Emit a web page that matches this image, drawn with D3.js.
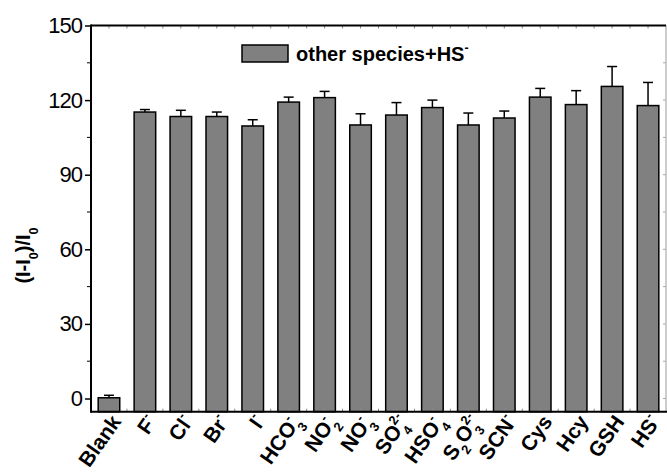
<!DOCTYPE html>
<html>
    <head>
        <title>Selectivity bar chart</title>
        <script src="https://d3js.org/d3.v7.min.js" charset="utf-8"></script>
        <style>
            body { margin: 0; background: #fff; }
            text { font-family: "Liberation Sans", Arial, sans-serif; }
        </style>
    </head>
    <body>
        <script>
            // categories along the x axis
            var categories = ["Blank", "F", "Cl", "Br", "I", "HCO3", "NO2", "NO3", "SO4",
                              "HSO4", "S2O3", "SCN", "Cys", "Hcy", "GSH", "HS"];
            // (I-I0)/I0 for each species + HS-
            var values = [0.3, 115.2, 113.4, 113.4, 109.6, 119.2, 121, 110, 114,
                          117, 110, 112.8, 121.2, 118.2, 125.5, 117.8];
            // upper error bars
            var errors = [1, 1, 2.5, 1.8, 2.5, 2, 2.5, 4.5, 5, 3, 4.8, 2.8, 3.5, 5.6, 8, 9.3];
            // tick label pieces: [text, "sub" | "sup"]
            var labelParts = [
                [["Blank"]],
                [["F"], ["-", "sup"]],
                [["Cl"], ["-", "sup"]],
                [["Br"], ["-", "sup"]],
                [["I"], ["-", "sup"]],
                [["HCO"], ["3", "sub"], ["-", "sup"]],
                [["NO"], ["2", "sub"], ["-", "sup"]],
                [["NO"], ["3", "sub"], ["-", "sup"]],
                [["SO"], ["4", "sub"], ["2-", "sup"]],
                [["HSO"], ["4", "sub"], ["-", "sup"]],
                [["S"], ["2", "sub"], ["O"], ["3", "sub"], ["2-", "sup"]],
                [["SCN"], ["-", "sup"]],
                [["Cys"]],
                [["Hcy"]],
                [["GSH"]],
                [["HS"], ["-", "sup"]]
            ];
            var yTicks = [0, 30, 60, 90, 120, 150];
            var legendName = [["other species+HS"], ["-", "sup"]];

            var W = 667, H = 474;
            var pLeft = 91, pRight = 666, pTop = 25.5, pBottom = 411.7;

            var svg = d3.select("body").append("svg")
                .attr("width", W)
                .attr("height", H);

            var x = d3.scaleBand()
                .domain(categories)
                .range([pLeft, pRight])
                .paddingInner(0.4)
                .paddingOuter(0.2);

            var y = d3.scaleLinear()
                .domain([-5.3, 150])
                .range([pBottom, pTop]);

            // writes a label made of pieces with sub/superscripts into a text node
            function writeParts(sel, parts, size) {
                var shift = 0, lastSubW = 0;
                parts.forEach(function(p) {
                    var kind = p[1];
                    var target = kind == "sub" ? size * 0.38 : kind == "sup" ? -size * 0.45 : 0;
                    var t = sel.append("tspan")
                        .attr("dy", target - shift)
                        .style("font-size", kind ? (size * 0.62) + "px" : size + "px")
                        .text(p[0]);
                    // stack a superscript over the preceding subscript, like Origin does
                    if (kind == "sup" && lastSubW > 0) t.attr("dx", -lastSubW);
                    lastSubW = kind == "sub" ? size * 0.62 * 0.556 * p[0].length : 0;
                    shift = target;
                });
            }

            // bars
            svg.append("g")
                .selectAll("rect")
                .data(categories)
                .join("rect")
                .attr("x", d => x(d))
                .attr("width", x.bandwidth())
                .attr("y", (d, i) => y(values[i]))
                .attr("height", (d, i) => y.range()[0] - y(values[i]))
                .attr("fill", "#808080")
                .attr("stroke", "#000")
                .attr("stroke-width", 1.5);

            // error bars (upper only)
            var eb = svg.append("g")
                .attr("stroke", "#000")
                .attr("stroke-width", 1.5)
                .selectAll("g")
                .data(categories)
                .join("g");
            eb.append("line")
                .attr("x1", d => x(d) + x.bandwidth() / 2)
                .attr("x2", d => x(d) + x.bandwidth() / 2)
                .attr("y1", (d, i) => y(values[i]))
                .attr("y2", (d, i) => y(values[i] + errors[i]));
            eb.append("line")
                .attr("x1", d => x(d) + x.bandwidth() / 2 - 5)
                .attr("x2", d => x(d) + x.bandwidth() / 2 + 5)
                .attr("y1", (d, i) => y(values[i] + errors[i]))
                .attr("y2", (d, i) => y(values[i] + errors[i]));

            // small inward ticks on top and bottom frame at centres and between bars
            var halfTicks = [];
            categories.forEach(function(c, i) {
                halfTicks.push(x(c) + x.bandwidth() / 2);
                if (i < categories.length - 1) halfTicks.push(x(c) + x.bandwidth() / 2 + x.step() / 2);
            });
            svg.append("g")
                .attr("stroke", "#888")
                .attr("stroke-width", 1)
                .selectAll("line")
                .data(halfTicks)
                .join("line")
                .attr("x1", d => d).attr("x2", d => d)
                .attr("y1", pBottom).attr("y2", pBottom - 3);
            svg.append("g")
                .attr("stroke", "#888")
                .attr("stroke-width", 1)
                .selectAll("line")
                .data(halfTicks)
                .join("line")
                .attr("x1", d => d).attr("x2", d => d)
                .attr("y1", pTop).attr("y2", pTop + 3);

            // right frame (light)
            svg.append("line")
                .attr("x1", pRight).attr("x2", pRight)
                .attr("y1", pTop).attr("y2", pBottom)
                .attr("stroke", "#999").attr("stroke-width", 1);
            // right ticks
            svg.append("g")
                .attr("stroke", "#aaa")
                .selectAll("line")
                .data(d3.range(0, 151, 15))
                .join("line")
                .attr("x1", pRight).attr("x2", pRight - 3)
                .attr("y1", d => y(d)).attr("y2", d => y(d));

            // top frame
            svg.append("line")
                .attr("x1", pLeft).attr("x2", pRight)
                .attr("y1", pTop).attr("y2", pTop)
                .attr("stroke", "#000").attr("stroke-width", 2);

            // bottom axis line
            svg.append("line")
                .attr("x1", pLeft).attr("x2", pRight + 1)
                .attr("y1", pBottom).attr("y2", pBottom)
                .attr("stroke", "#000").attr("stroke-width", 2);

            // left axis
            var yAxis = svg.append("g")
                .attr("transform", `translate(${pLeft},0)`)
                .call(d3.axisLeft(y).tickValues(yTicks).tickSize(6).tickPadding(3));
            yAxis.select(".domain").remove();
            yAxis.selectAll(".tick line").attr("stroke-width", 1.5);
            yAxis.selectAll("text")
                .style("font-size", "22px")
                .style("letter-spacing", "-1px")
                .attr("fill", "#000");
            yAxis.append("line")
                .attr("y1", pTop - 1).attr("y2", pBottom + 1)
                .attr("stroke", "#000").attr("stroke-width", 2);
            // minor ticks
            yAxis.append("g")
                .selectAll("line")
                .data(d3.range(15, 150, 30))
                .join("line")
                .attr("x1", 0).attr("x2", -4)
                .attr("y1", d => y(d)).attr("y2", d => y(d))
                .attr("stroke", "#000");

            // x labels
            var xl = svg.append("g")
                .selectAll("text")
                .data(categories)
                .join("text")
                .attr("text-anchor", "end")
                .attr("font-weight", "bold")
                .attr("transform", d => `translate(${x(d) + x.bandwidth() / 2 + 13},${pBottom + 10}) rotate(-55)`);
            xl.each(function(d, i) {
                writeParts(d3.select(this), labelParts[i], 21);
            });

            // y title
            var yt = svg.append("text")
                .attr("transform", `translate(30,${(pTop + pBottom) / 2 + 37}) rotate(-90)`)
                .attr("text-anchor", "middle")
                .attr("font-weight", "bold");
            writeParts(yt, [["(I-I"], ["0", "sub"], [")/I"], ["0", "sub"]], 20);

            // legend
            svg.append("rect")
                .attr("x", 242).attr("y", 45)
                .attr("width", 46).attr("height", 17)
                .attr("fill", "#808080")
                .attr("stroke", "#000")
                .attr("stroke-width", 1.5);
            var lt = svg.append("text")
                .attr("x", 296).attr("y", 61)
                .attr("font-weight", "bold");
            writeParts(lt, legendName, 20);
        </script>
    </body>
</html>
